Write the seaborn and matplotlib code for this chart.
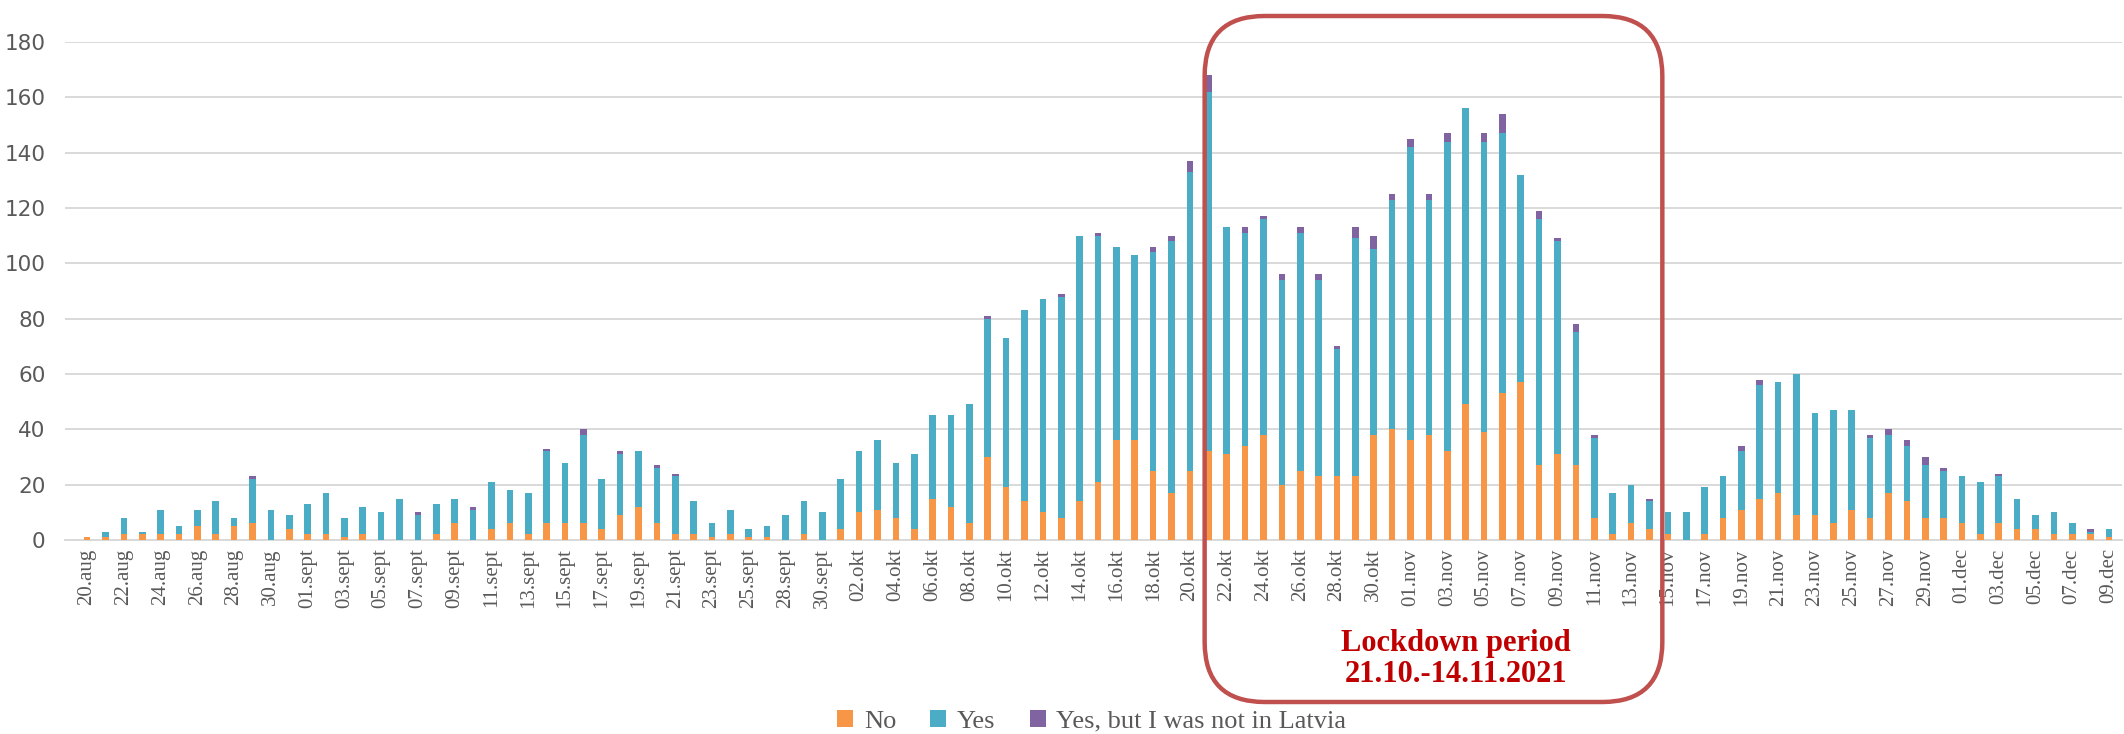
import matplotlib
matplotlib.use("Agg")
import matplotlib.pyplot as plt
import seaborn as sns
import pandas as pd
from matplotlib.patches import FancyBboxPatch, Patch

# ---------------- data ----------------
dates = [
    "20.aug", "21.aug", "22.aug", "23.aug", "24.aug", "25.aug", "26.aug", "27.aug", "28.aug", "29.aug", "30.aug", "31.aug",
    "01.sept", "02.sept", "03.sept", "04.sept", "05.sept", "06.sept", "07.sept", "08.sept", "09.sept", "10.sept",
    "11.sept", "12.sept", "13.sept", "14.sept", "15.sept", "16.sept", "17.sept", "18.sept", "19.sept", "20.sept",
    "21.sept", "22.sept", "23.sept", "24.sept", "25.sept", "27.sept", "28.sept", "29.sept", "30.sept",
    "01.okt", "02.okt", "03.okt", "04.okt", "05.okt", "06.okt", "07.okt", "08.okt", "09.okt", "10.okt",
    "11.okt", "12.okt", "13.okt", "14.okt", "15.okt", "16.okt", "17.okt", "18.okt", "19.okt", "20.okt",
    "21.okt", "22.okt", "23.okt", "24.okt", "25.okt", "26.okt", "27.okt", "28.okt", "29.okt", "30.okt", "31.okt",
    "01.nov", "02.nov", "03.nov", "04.nov", "05.nov", "06.nov", "07.nov", "08.nov", "09.nov", "10.nov",
    "11.nov", "12.nov", "13.nov", "14.nov", "15.nov", "16.nov", "17.nov", "18.nov", "19.nov", "20.nov",
    "21.nov", "22.nov", "23.nov", "24.nov", "25.nov", "26.nov", "27.nov", "28.nov", "29.nov", "30.nov",
    "01.dec", "02.dec", "03.dec", "04.dec", "05.dec", "06.dec", "07.dec", "08.dec", "09.dec",
]

no = [
    1, 1, 2, 2, 2, 2, 5, 2, 5, 6, 0, 4,
    2, 2, 1, 2, 0, 0, 0, 2, 6, 0, 4, 6, 2, 6, 6, 6, 4, 9, 12, 6, 2, 2, 1, 2, 1, 1, 0, 2, 0,
    4, 10, 11, 8, 4, 15, 12, 6, 30, 19, 14, 10, 8, 14, 21, 36, 36, 25, 17, 25,
    32, 31, 34, 38, 20, 25, 23, 23, 23, 38, 40,
    36, 38, 32, 49, 39, 53, 57, 27, 31, 27, 8, 2, 6, 4, 2, 0, 2, 8, 11, 15,
    17, 9, 9, 6, 11, 8, 17, 14, 8, 8,
    6, 2, 6, 4, 4, 2, 2, 2, 1,
]

yes = [
    0, 2, 6, 1, 9, 3, 6, 12, 3, 16, 11, 5,
    11, 15, 7, 10, 10, 15, 9, 11, 9, 11, 17, 12, 15, 26, 22, 32, 18, 22, 20, 20, 21, 12, 5, 9, 3, 4, 9, 12, 10,
    18, 22, 25, 20, 27, 30, 33, 43, 50, 54, 69, 77, 80, 96, 89, 70, 67, 79, 91, 108,
    130, 82, 77, 78, 74, 86, 71, 46, 86, 67, 83,
    106, 85, 112, 107, 105, 94, 75, 89, 77, 48, 29, 15, 14, 10, 8, 10, 17, 15, 21, 41,
    40, 51, 37, 41, 36, 29, 21, 20, 19, 17,
    17, 19, 17, 11, 5, 8, 4, 1, 3,
]

abroad = [
    0, 0, 0, 0, 0, 0, 0, 0, 0, 1, 0, 0,
    0, 0, 0, 0, 0, 0, 1, 0, 0, 1, 0, 0, 0, 1, 0, 2, 0, 1, 0, 1, 1, 0, 0, 0, 0, 0, 0, 0, 0,
    0, 0, 0, 0, 0, 0, 0, 0, 1, 0, 0, 0, 1, 0, 1, 0, 0, 2, 2, 4,
    6, 0, 2, 1, 2, 2, 2, 1, 4, 5, 2,
    3, 2, 3, 0, 3, 7, 0, 3, 1, 3, 1, 0, 0, 1, 0, 0, 0, 0, 2, 2,
    0, 0, 0, 0, 0, 1, 2, 2, 3, 1,
    0, 0, 1, 0, 0, 0, 0, 1, 0,
]

series_labels = ["No", "Yes", "Yes, but I was not in Latvia"]
yticks = list(range(0, 181, 20))
lockdown_start, lockdown_end = "21.okt", "14.nov"
lockdown_text = ["Lockdown period", "21.10.-14.11.2021"]

# ---------------- style ----------------
ORANGE = "#F79646"
BLUE = "#4BACC6"
PURPLE = "#8064A2"
GRID = "#D9D9D9"
TXT = "#595959"
RED = "#C0504D"

sns.set_style("white")
plt.rcParams["font.family"] = ["DejaVu Sans"]

df = pd.DataFrame({"date": dates, "no": no, "yes": yes, "abroad": abroad})
df["no_yes"] = df["no"] + df["yes"]
df["total"] = df["no_yes"] + df["abroad"]

fig = plt.figure(figsize=(21.24, 7.34), dpi=100)
ax = fig.add_axes([0.0306, 0.2643, 0.9684, 0.6785])

bw = 0.36
sns.barplot(data=df, x="date", y="total", order=dates, color=PURPLE, width=bw,
            saturation=1, linewidth=0, ax=ax, zorder=2)
sns.barplot(data=df, x="date", y="no_yes", order=dates, color=BLUE, width=bw,
            saturation=1, linewidth=0, ax=ax, zorder=3)
sns.barplot(data=df, x="date", y="no", order=dates, color=ORANGE, width=bw,
            saturation=1, linewidth=0, ax=ax, zorder=4)

ax.set_ylim(0, 180)
ax.set_yticks(yticks)
ax.set_xlim(-1.2, len(dates) - 0.3)
ax.set_xlabel("")
ax.set_ylabel("")
ax.yaxis.grid(True, color=GRID, linewidth=1.4)
ax.xaxis.grid(False)
ax.set_axisbelow(True)
for s in ["top", "right", "left"]:
    ax.spines[s].set_visible(False)
ax.spines["bottom"].set_color(GRID)
ax.spines["bottom"].set_linewidth(1.4)

tick_pos = list(range(0, len(dates), 2))
ax.set_xticks(tick_pos)
ax.set_xticklabels([dates[i] for i in tick_pos], rotation=90,
                   fontfamily="Liberation Serif", fontsize=15, color=TXT)
ax.tick_params(axis="x", length=0, pad=6)
ax.tick_params(axis="y", length=0, pad=14, labelsize=15.5, labelcolor=TXT)

# legend
handles = [Patch(facecolor=c, edgecolor="none") for c in (ORANGE, BLUE, PURPLE)]
fig.legend(handles, series_labels, loc="center", bbox_to_anchor=(0.514, 0.017),
           ncol=3, frameon=False, handlelength=0.6, handleheight=0.6,
           handletextpad=0.4, columnspacing=1.3,
           prop={"family": "Liberation Serif", "size": 19}, labelcolor=TXT)

# lockdown rounded box
fig.canvas.draw()
i0 = dates.index(lockdown_start)
i1 = dates.index(lockdown_end)
x0_px = ax.transData.transform((i0 - 0.2, 0))[0]
x1_px = ax.transData.transform((i1 + 0.7, 0))[0]
H = fig.get_figheight() * fig.dpi
y_top_px = H - 16
y_bot_px = H - 702
inv = fig.dpi
box = FancyBboxPatch((x0_px / inv, y_bot_px / inv), (x1_px - x0_px) / inv,
                     (y_top_px - y_bot_px) / inv,
                     boxstyle="round,pad=0,rounding_size=0.6",
                     transform=fig.dpi_scale_trans, facecolor="none",
                     edgecolor=RED, linewidth=3.2, zorder=10, clip_on=False)
fig.add_artist(box)

fig.text(1456 / 2124, 1 - 643 / 734, lockdown_text[0], ha="center", va="center",
         fontfamily="Liberation Serif", fontweight="bold", fontsize=22, color="#C00000")
fig.text(1456 / 2124, 1 - 674 / 734, lockdown_text[1], ha="center", va="center",
         fontfamily="Liberation Serif", fontweight="bold", fontsize=22, color="#C00000")

fig.savefig("out.png", dpi=100, facecolor="white")
